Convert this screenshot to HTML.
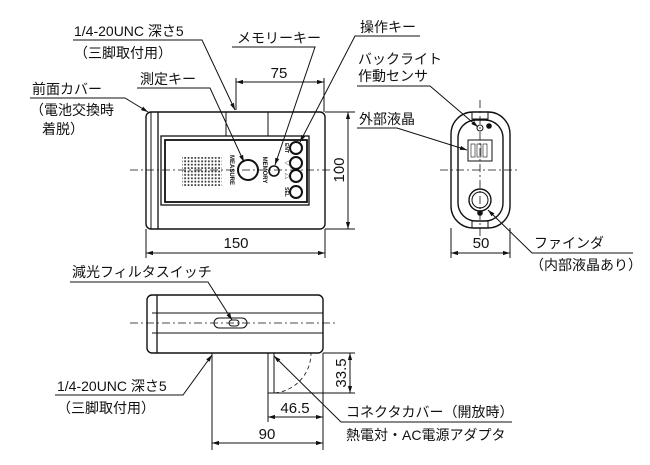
<!DOCTYPE html>
<html><head><meta charset="utf-8"><style>
html,body{margin:0;padding:0;background:#fff;width:650px;height:465px;overflow:hidden}
svg{display:block}
text{font-family:"Liberation Sans","Noto Sans CJK JP",sans-serif;fill:#111}
.j{font-size:14px}
.d{font-size:15px}
</style></head><body>
<svg width="650" height="465" viewBox="0 0 650 465" xmlns="http://www.w3.org/2000/svg">
<defs>
<marker id="a" viewBox="0 0 10 10" refX="10" refY="5" markerWidth="7" markerHeight="7" orient="auto-start-reverse"><path d="M0,2 L10,5 L0,8 z" fill="#111"/></marker>
<pattern id="dots" width="3.4" height="3.4" patternUnits="userSpaceOnUse"><circle cx="1.5" cy="1.5" r="1" fill="#333"/></pattern>
</defs>
<g stroke="#111" fill="none" stroke-width="1">
<rect x="146" y="112" width="179" height="117" rx="5" stroke-width="1.4"/>
<line x1="151" y1="112" x2="151" y2="229"/>
<line x1="158" y1="112" x2="158" y2="229" stroke-width="1.3"/>
<rect x="226" y="112" width="42" height="24"/>
<rect x="161" y="136" width="148" height="69" stroke-width="1.3"/>
<rect x="165" y="140" width="142" height="62" stroke-width="1.8"/>
<rect x="182" y="157" width="40" height="29" fill="url(#dots)" stroke="none"/>
<circle cx="248" cy="170" r="10" stroke-width="2"/>
<circle cx="274" cy="171" r="5" stroke-width="1.6"/>
<circle cx="296" cy="148" r="6" stroke-width="2"/>
<circle cx="296" cy="163" r="6" stroke-width="2"/>
<circle cx="296" cy="176" r="6" stroke-width="2"/>
<circle cx="296" cy="192" r="6" stroke-width="2"/>
<line x1="130" y1="170" x2="335" y2="170" stroke-dasharray="8,3,2,3" stroke-width="0.8"/>
<line x1="325" y1="112" x2="355" y2="112"/><line x1="325" y1="229" x2="355" y2="229"/>
<line x1="348" y1="112" x2="348" y2="229" marker-start="url(#a)" marker-end="url(#a)"/>
<line x1="146" y1="229" x2="146" y2="258"/><line x1="325" y1="229" x2="325" y2="258"/>
<line x1="146" y1="253" x2="325" y2="253" marker-start="url(#a)" marker-end="url(#a)"/>
<line x1="236" y1="78" x2="236" y2="110"/><line x1="324" y1="78" x2="324" y2="112"/>
<line x1="236" y1="82" x2="324" y2="82" marker-start="url(#a)" marker-end="url(#a)"/>
<polyline points="73,40 202,40 235,110" marker-end="url(#a)"/>
<polyline points="232,47 315,47 275,165" marker-end="url(#a)"/>
<polyline points="137,88 210,88 244,162" marker-end="url(#a)"/>
<polyline points="30,98 125,98 148,112" marker-end="url(#a)"/>
<polyline points="420,36 355,36 300,142" marker-end="url(#a)"/>
<rect x="451" y="112" width="59" height="116" rx="22" stroke-width="1.4"/>
<rect x="458" y="120" width="45" height="101" rx="18" stroke-width="1.4"/>
<rect x="472" y="112" width="16" height="7"/>
<rect x="472" y="221" width="16" height="7"/>
<circle cx="480" cy="128" r="3"/>
<circle cx="489" cy="126" r="2.3" fill="#111"/>
<rect x="468" y="140" width="24" height="21"/>
<g stroke-width="0.6"><rect x="471" y="144" width="4" height="13"/><rect x="477" y="144" width="4" height="13"/><rect x="483" y="144" width="4" height="13"/></g>
<circle cx="480" cy="200" r="11" stroke-width="1.4"/>
<circle cx="480" cy="200" r="8"/>
<circle cx="480" cy="213" r="2.3" fill="#111"/>
<line x1="480" y1="100" x2="480" y2="240" stroke-dasharray="8,3,2,3" stroke-width="0.8"/>
<line x1="440" y1="170" x2="520" y2="170" stroke-dasharray="8,3,2,3" stroke-width="0.8"/>
<line x1="451" y1="228" x2="451" y2="258"/><line x1="510" y1="228" x2="510" y2="258"/>
<line x1="451" y1="253" x2="510" y2="253" marker-start="url(#a)" marker-end="url(#a)"/>
<polyline points="357,86 430,86 478,127" marker-end="url(#a)"/>
<polyline points="357,128 397,128 467,150" marker-end="url(#a)"/>
<polyline points="633,253 532,253 488,210" marker-end="url(#a)"/>
<rect x="147" y="295" width="176" height="58" rx="5" stroke-width="1.4"/>
<line x1="157" y1="295" x2="157" y2="353" stroke-width="1.3"/>
<line x1="152" y1="313" x2="323" y2="313"/>
<line x1="152" y1="333" x2="323" y2="333"/>
<rect x="214" y="318" width="33" height="10" rx="5"/>
<rect x="229" y="320" width="10" height="6" rx="3"/>
<line x1="130" y1="323" x2="335" y2="323" stroke-dasharray="8,3,2,3" stroke-width="0.8"/>
<rect x="268" y="353" width="6" height="40"/>
<path d="M268,393 A40,40 0 0 0 311,353" stroke-dasharray="4,3" stroke-width="0.8"/>
<line x1="268" y1="393" x2="355" y2="393"/><line x1="323" y1="353" x2="355" y2="353"/>
<line x1="350" y1="353" x2="350" y2="393" marker-start="url(#a)" marker-end="url(#a)"/>
<line x1="268" y1="393" x2="268" y2="422"/>
<line x1="212" y1="353" x2="212" y2="450"/><line x1="323" y1="353" x2="323" y2="450"/>
<line x1="268" y1="417" x2="323" y2="417" marker-start="url(#a)" marker-end="url(#a)"/>
<line x1="212" y1="443" x2="323" y2="443" marker-start="url(#a)" marker-end="url(#a)"/>
<polyline points="70,282 208,282 232,320" marker-end="url(#a)"/>
<polyline points="55,395 183,395 212,355" marker-end="url(#a)"/>
<polyline points="512,422 341,422 274,356" marker-end="url(#a)"/>
</g>
<text transform="translate(230,170) rotate(90)" text-anchor="middle" style="font-size:6px;font-weight:bold">MEASURE</text>
<text transform="translate(263,170) rotate(90)" text-anchor="middle" style="font-size:6px;font-weight:bold">MEMORY</text>
<text transform="translate(285,148) rotate(90)" text-anchor="middle" style="font-size:5px;font-weight:bold">ENT</text>
<text transform="translate(285,163) rotate(90)" text-anchor="middle" style="font-size:6px">▽</text>
<text transform="translate(285,176) rotate(90)" text-anchor="middle" style="font-size:6px">△</text>
<text transform="translate(285,192) rotate(90)" text-anchor="middle" style="font-size:5px;font-weight:bold">SEL</text>
<text class="d" x="279" y="78" text-anchor="middle">75</text>
<text class="d" x="236" y="248" text-anchor="middle">150</text>
<text class="d" transform="translate(344,170) rotate(-90)" text-anchor="middle">100</text>
<text class="d" x="481" y="248" text-anchor="middle">50</text>
<text class="d" transform="translate(346,373) rotate(-90)" text-anchor="middle">33.5</text>
<text class="d" x="295" y="413" text-anchor="middle">46.5</text>
<text class="d" x="267" y="439" text-anchor="middle">90</text>
<text class="j" x="74" y="36">1/4-20UNC 深さ5</text>
<text class="j" x="74" y="58">（三脚取付用）</text>
<text class="j" x="237" y="43">メモリーキー</text>
<text class="j" x="140" y="84">測定キー</text>
<text class="j" x="32" y="94">前面カバー</text>
<text class="j" x="30" y="115">（電池交換時</text>
<text class="j" x="42" y="134">着脱）</text>
<text class="j" x="360" y="32">操作キー</text>
<text class="j" x="358" y="64">バックライト</text>
<text class="j" x="358" y="81">作動センサ</text>
<text class="j" x="359" y="124">外部液晶</text>
<text class="j" x="534" y="248">ファインダ</text>
<text class="j" x="530" y="270">（内部液晶あり）</text>
<text class="j" x="72" y="277">減光フィルタスイッチ</text>
<text class="j" x="57" y="391">1/4-20UNC 深さ5</text>
<text class="j" x="57" y="413">（三脚取付用）</text>
<text class="j" x="346" y="417">コネクタカバー（開放時）</text>
<text class="j" x="346" y="440">熱電対・AC電源アダプタ</text>
</svg>
</body></html>
